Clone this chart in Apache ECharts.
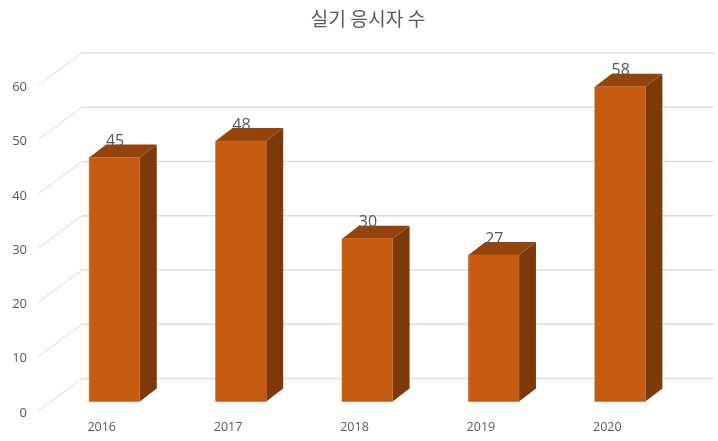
<!DOCTYPE html>
<html>
<head>
<meta charset="utf-8">
<style>html,body{margin:0;padding:0;background:#fff}#c{width:718px;height:441px}</style>
<script src="https://cdn.jsdelivr.net/npm/echarts@6/dist/echarts.min.js"></script>
</head>
<body>
<div id="c"></div>
<script>
const categories = ['2016', '2017', '2018', '2019', '2020'];
const values = [45, 48, 30, 27, 58];
const yTicks = [0, 10, 20, 30, 40, 50, 60];
const titleText = '실기 응시자 수';

const chart = echarts.init(document.getElementById('c'), null, { renderer: 'canvas' });
const WALL_DX = 44, WALL_DY = -32.5;
const BAR_DX = 13.3, BAR_DY = -9.5;
const SIDE_DX = 17, SIDE_DY = -13;
const TEXT = '#595959';

function renderGrid(params, api) {
  const p = api.coord([0, api.value(1)]);
  const cs = params.coordSys;
  const y = p[1];
  const style = { stroke: '#d9d9d9', fill: null, lineWidth: 1 };
  return {
    type: 'group',
    children: [
      { type: 'line', shape: { x1: cs.x, y1: y, x2: cs.x + WALL_DX, y2: y + WALL_DY }, style: style },
      { type: 'line', shape: { x1: cs.x + WALL_DX, y1: y + WALL_DY, x2: cs.x + cs.width + WALL_DX, y2: y + WALL_DY }, style: { stroke: '#dedede', fill: null, lineWidth: 1.3 } }
    ]
  };
}

function renderBar(params, api) {
  const idx = api.value(0);
  const top = api.coord([idx, api.value(1)]);
  const base = api.coord([idx, 0]);
  const w = api.size([1, 0])[0] * 0.4;
  const xl = top[0] - w / 2 + BAR_DX, xr = xl + w;
  const yt = top[1] + BAR_DY, yb = base[1] + BAR_DY;
  return {
    type: 'group',
    children: [
      { type: 'polygon', shape: { points: [[xr, yt], [xr + SIDE_DX, yt + SIDE_DY], [xr + SIDE_DX, yb + SIDE_DY], [xr, yb]] },
        style: { fill: '#7d3909' } },
      { type: 'polygon', shape: { points: [[xl, yt], [xl + SIDE_DX, yt + SIDE_DY], [xr + SIDE_DX, yt + SIDE_DY], [xr, yt]] },
        style: { fill: '#94430b' } },
      { type: 'rect', shape: { x: xl, y: yt, width: w, height: yb - yt },
        style: { fill: '#c55a11', stroke: '#cc6a28', lineWidth: 0.6 } },
      { type: 'text', style: { text: String(api.value(1)), x: xl + w / 2 + 0.6, y: yt - 16,
        align: 'center', verticalAlign: 'middle', fill: TEXT, font: '16px "Open Sans"' } }
    ]
  };
}

chart.setOption({
  animation: false,
  backgroundColor: '#ffffff',
  title: {
    text: titleText, left: 363, top: 4, textAlign: 'center',
    textStyle: { fontFamily: '"Noto Sans CJK KR"', fontSize: 19.3, fontWeight: 'normal', color: TEXT }
  },
  grid: { left: 38, right: 48, top: 85.5, bottom: 30, containLabel: false },
  xAxis: {
    type: 'category', data: categories,
    axisLine: { show: false }, axisTick: { show: false }, splitLine: { show: false },
    axisLabel: { color: TEXT, fontSize: 12.5, fontFamily: '"Open Sans"', margin: 10, padding: [0, 0, 0, 1] }
  },
  yAxis: {
    type: 'value', min: 0, max: 60, interval: 10,
    axisLine: { show: false }, axisTick: { show: false }, splitLine: { show: false },
    axisLabel: { color: TEXT, fontSize: 13, fontFamily: '"Open Sans"', margin: 11, verticalAlign: 'top', lineHeight: 4 }
  },
  series: [
    { type: 'custom', clip: false, z: 1, renderItem: renderGrid, silent: true,
      data: yTicks.map(t => [0, t]), encode: { x: 0, y: 1 } },
    { type: 'custom', clip: false, z: 2, renderItem: renderBar, silent: true,
      data: values.map((v, i) => [i, v]), encode: { x: 0, y: 1 } }
  ]
});
</script>
</body>
</html>
